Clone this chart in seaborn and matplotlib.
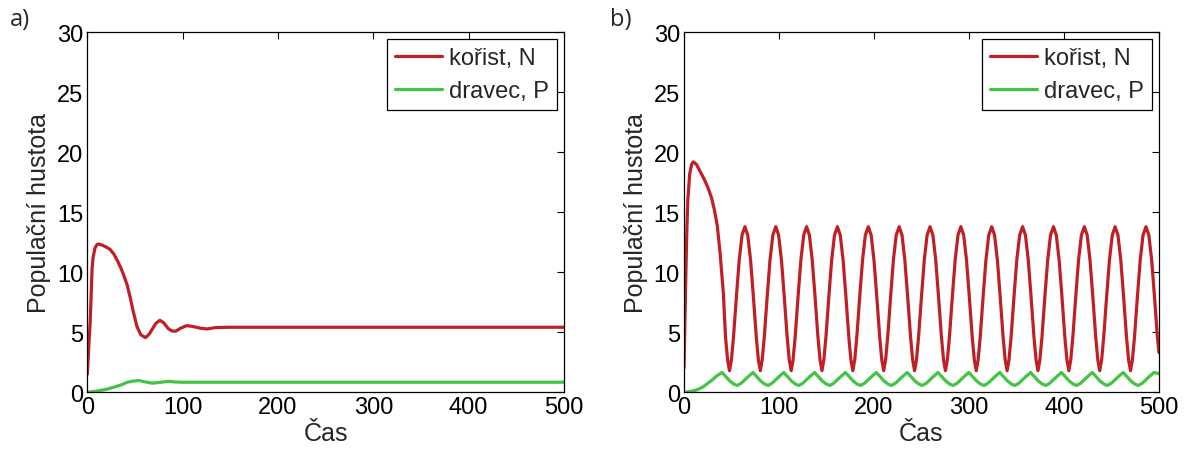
import matplotlib
matplotlib.use("Agg")
import matplotlib.pyplot as plt
import seaborn as sns

# ---------------- data ----------------
x_ticks = [0, 100, 200, 300, 400, 500]
y_ticks = [0, 5, 10, 15, 20, 25, 30]
series_labels = ["kořist, N", "dravec, P"]
panel_labels = ["a)", "b)"]

# panel a: prey
prey_a_t = [0, 1, 2, 3, 4, 5, 6, 8, 10, 12, 16, 20, 24, 28, 32, 35, 38, 42, 45, 48,
            52, 56, 61, 65, 68, 72, 76, 80, 85, 89, 93, 98, 104, 110, 118, 126, 135,
            150, 200, 300, 400, 500]
prey_a = [1.5, 3.0, 4.5, 5.8, 8.0, 10.3, 11.2, 12.0, 12.3, 12.36, 12.25, 12.1, 11.9,
          11.5, 10.9, 10.4, 9.8, 8.9, 7.9, 6.8, 5.5, 4.8, 4.55, 4.85, 5.25, 5.75, 6.0,
          5.8, 5.3, 5.1, 5.1, 5.35, 5.55, 5.5, 5.35, 5.28, 5.4, 5.42, 5.42, 5.42, 5.42,
          5.42]
# panel a: predator
pred_a_t = [0, 10, 20, 28, 35, 42, 48, 54, 60, 68, 76, 85, 92, 100, 120, 500]
pred_a = [0.0, 0.1, 0.25, 0.43, 0.6, 0.84, 0.93, 0.98, 0.88, 0.76, 0.82, 0.92, 0.86,
          0.84, 0.84, 0.84]

# panel b: prey
prey_b_t = [0, 1, 2, 3, 4, 6, 8, 9.8, 13, 17, 21, 25, 29, 32, 35, 38, 41.4, 43.7, 45.9,
            47.9, 49.9, 52.1, 55.1, 58.1, 61.1,
            64.1, 67.1, 70.1, 73.1, 76.1, 78.3, 80.3, 82.3, 84.5, 87.5, 90.5, 93.5,
            96.6, 99.6, 102.6, 105.6, 108.6, 110.8, 112.8, 114.8, 117.0, 120.0, 123.0, 126.0,
            129.0, 132.0, 135.0, 138.0, 141.0, 143.2, 145.2, 147.2, 149.4, 152.4, 155.4, 158.4,
            161.5, 164.5, 167.5, 170.5, 173.5, 175.7, 177.7, 179.7, 181.9, 184.9, 187.9, 190.9,
            194.0, 197.0, 200.0, 203.0, 206.0, 208.2, 210.2, 212.2, 214.4, 217.4, 220.4, 223.4,
            226.5, 229.5, 232.5, 235.5, 238.5, 240.7, 242.7, 244.7, 246.9, 249.9, 252.9, 255.9,
            259.0, 262.0, 265.0, 268.0, 271.0, 273.2, 275.2, 277.2, 279.4, 282.4, 285.4, 288.4,
            291.4, 294.4, 297.4, 300.4, 303.4, 305.6, 307.6, 309.6, 311.8, 314.8, 317.8, 320.8,
            323.9, 326.9, 329.9, 332.9, 335.9, 338.1, 340.1, 342.1, 344.3, 347.3, 350.3, 353.3,
            356.4, 359.4, 362.4, 365.4, 368.4, 370.6, 372.6, 374.6, 376.8, 379.8, 382.8, 385.8,
            388.9, 391.9, 394.9, 397.9, 400.9, 403.1, 405.1, 407.1, 409.3, 412.3, 415.3, 418.3,
            421.4, 424.4, 427.4, 430.4, 433.4, 435.6, 437.6, 439.6, 441.8, 444.8, 447.8, 450.8,
            453.8, 456.8, 459.8, 462.8, 465.8, 468.0, 470.0, 472.0, 474.2, 477.2, 480.2, 483.2,
            486.3, 489.3, 492.3, 495.3, 498.3, 500.0]
prey_b = [2.0, 6.0, 10.0, 13.5, 16.0, 18.2, 19.0, 19.2, 19.0, 18.4, 17.8, 17.1, 16.2,
          15.2, 13.9, 11.6, 8.3, 4.6, 2.7, 1.8, 2.7, 4.6, 7.9, 11.0, 13.1,
          13.8, 13.1, 11.0, 7.9, 4.6, 2.7, 1.8, 2.7, 4.6, 7.9, 11.0, 13.1,
          13.8, 13.1, 11.0, 7.9, 4.6, 2.7, 1.8, 2.7, 4.6, 7.9, 11.0, 13.1,
          13.8, 13.1, 11.0, 7.9, 4.6, 2.7, 1.8, 2.7, 4.6, 7.9, 11.0, 13.1,
          13.8, 13.1, 11.0, 7.9, 4.6, 2.7, 1.8, 2.7, 4.6, 7.9, 11.0, 13.1,
          13.8, 13.1, 11.0, 7.9, 4.6, 2.7, 1.8, 2.7, 4.6, 7.9, 11.0, 13.1,
          13.8, 13.1, 11.0, 7.9, 4.6, 2.7, 1.8, 2.7, 4.6, 7.9, 11.0, 13.1,
          13.8, 13.1, 11.0, 7.9, 4.6, 2.7, 1.8, 2.7, 4.6, 7.9, 11.0, 13.1,
          13.8, 13.1, 11.0, 7.9, 4.6, 2.7, 1.8, 2.7, 4.6, 7.9, 11.0, 13.1,
          13.8, 13.1, 11.0, 7.9, 4.6, 2.7, 1.8, 2.7, 4.6, 7.9, 11.0, 13.1,
          13.8, 13.1, 11.0, 7.9, 4.6, 2.7, 1.8, 2.7, 4.6, 7.9, 11.0, 13.1,
          13.8, 13.1, 11.0, 7.9, 4.6, 2.7, 1.8, 2.7, 4.6, 7.9, 11.0, 13.1,
          13.8, 13.1, 11.0, 7.9, 4.6, 2.7, 1.8, 2.7, 4.6, 7.9, 11.0, 13.1,
          13.8, 13.1, 11.0, 7.9, 4.6, 2.7, 1.8, 2.7, 4.6, 7.9, 11.0, 13.1,
          13.8, 13.1, 11.0, 7.9, 4.6, 3.3]

# panel b: predator
pred_b_t = [0, 5, 10, 15, 20, 25, 30, 35,
            40.1, 44.1, 48.1, 52.1, 55.9, 60.1, 64.1, 68.1,
            72.6, 76.6, 80.6, 84.6, 88.4, 92.6, 96.6, 100.6,
            105.0, 109.0, 113.0, 117.0, 120.8, 125.0, 129.0, 133.0,
            137.5, 141.5, 145.5, 149.5, 153.3, 157.5, 161.5, 165.5,
            170.0, 174.0, 178.0, 182.0, 185.8, 190.0, 194.0, 198.0,
            202.5, 206.5, 210.5, 214.5, 218.3, 222.5, 226.5, 230.5,
            235.0, 239.0, 243.0, 247.0, 250.8, 255.0, 259.0, 263.0,
            267.4, 271.4, 275.4, 279.4, 283.2, 287.4, 291.4, 295.4,
            299.9, 303.9, 307.9, 311.9, 315.7, 319.9, 323.9, 327.9,
            332.4, 336.4, 340.4, 344.4, 348.2, 352.4, 356.4, 360.4,
            364.9, 368.9, 372.9, 376.9, 380.7, 384.9, 388.9, 392.9,
            397.4, 401.4, 405.4, 409.4, 413.2, 417.4, 421.4, 425.4,
            429.8, 433.8, 437.8, 441.8, 445.6, 449.8, 453.8, 457.8,
            462.3, 466.3, 470.3, 474.3, 478.1, 482.3, 486.3, 490.3,
            494.7, 500.0]
pred_b = [0.0, 0.05, 0.12, 0.25, 0.45, 0.75, 1.05, 1.4,
          1.65, 1.3, 0.95, 0.7, 0.57, 0.75, 1.05, 1.35,
          1.65, 1.3, 0.95, 0.7, 0.57, 0.75, 1.05, 1.35,
          1.65, 1.3, 0.95, 0.7, 0.57, 0.75, 1.05, 1.35,
          1.65, 1.3, 0.95, 0.7, 0.57, 0.75, 1.05, 1.35,
          1.65, 1.3, 0.95, 0.7, 0.57, 0.75, 1.05, 1.35,
          1.65, 1.3, 0.95, 0.7, 0.57, 0.75, 1.05, 1.35,
          1.65, 1.3, 0.95, 0.7, 0.57, 0.75, 1.05, 1.35,
          1.65, 1.3, 0.95, 0.7, 0.57, 0.75, 1.05, 1.35,
          1.65, 1.3, 0.95, 0.7, 0.57, 0.75, 1.05, 1.35,
          1.65, 1.3, 0.95, 0.7, 0.57, 0.75, 1.05, 1.35,
          1.65, 1.3, 0.95, 0.7, 0.57, 0.75, 1.05, 1.35,
          1.65, 1.3, 0.95, 0.7, 0.57, 0.75, 1.05, 1.35,
          1.65, 1.3, 0.95, 0.7, 0.57, 0.75, 1.05, 1.35,
          1.65, 1.3, 0.95, 0.7, 0.57, 0.75, 1.05, 1.35,
          1.65, 1.55]

# ---------------- style ----------------
RED = "#bf2026"
GREEN = "#44c444"
FS = 17

sns.set_style("white")
plt.rcParams["font.family"] = ["Liberation Sans", "DejaVu Sans"]

W, H = 1192, 452
fig = plt.figure(figsize=(W / 100, H / 100), dpi=100)
fig.patch.set_facecolor("white")

ax_a = fig.add_axes([87.3 / W, 1 - 393.3 / H, (564 - 87.3) / W, 360 / H])
ax_b = fig.add_axes([684 / W, 1 - 393.3 / H, (1159 - 684) / W, 360 / H])

panels = [
    (ax_a, prey_a_t, prey_a, pred_a_t, pred_a, panel_labels[0], 10),
    (ax_b, prey_b_t, prey_b, pred_b_t, pred_b, panel_labels[1], 610),
]

for ax, tN, N, tP, P, plab, px in panels:
    sns.lineplot(x=tN, y=N, ax=ax, color=RED, linewidth=2.3, label=series_labels[0])
    sns.lineplot(x=tP, y=P, ax=ax, color=GREEN, linewidth=2.3, label=series_labels[1])
    ax.set_xlim(0, 500)
    ax.set_ylim(0, 30)
    ax.set_xticks(x_ticks)
    ax.set_yticks(y_ticks)
    ax.tick_params(direction="in", top=True, right=True, length=5, width=0.8,
                   labelsize=FS, pad=3, colors="black")
    for s in ax.spines.values():
        s.set_visible(True)
        s.set_color("black")
        s.set_linewidth(0.9)
    ax.set_xlabel("Čas", fontsize=FS + 1, labelpad=2)
    ax.set_ylabel("Populační hustota", fontsize=FS + 1, labelpad=4)
    leg = ax.legend(loc="upper right", fontsize=FS, frameon=True, fancybox=False,
                    edgecolor="black", framealpha=1, handlelength=2.0,
                    handletextpad=0.3, borderpad=0.35, labelspacing=0.45,
                    borderaxespad=0.28)
    leg.get_frame().set_linewidth(0.9)
    fig.text(px / W, 1 - 20 / H, plab, fontsize=17, family=["Open Sans", "DejaVu Sans"],
             ha="left", va="center")

fig.savefig("out.png", dpi=100, facecolor="white")
